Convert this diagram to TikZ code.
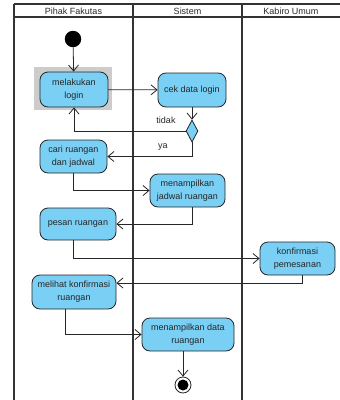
\documentclass[tikz,border=0pt]{standalone}
\usepackage{fontspec}
\setmainfont{Liberation Sans}
\usetikzlibrary{arrows.meta,shapes.geometric}
\definecolor{actfill}{HTML}{7ACFF5}
\definecolor{lanecol}{HTML}{333333}
\definecolor{selgray}{HTML}{CCCCCC}
\begin{document}
\begin{tikzpicture}[x=1pt,y=-1pt,
 act/.style={draw=black!85, fill=actfill, rounded corners=8pt, line width=0.8pt, align=center, font=\fontsize{9}{13}\selectfont, text=black!85, inner sep=0pt},
 flow/.style={draw=black!85, line width=0.8pt, -{Straight Barb[length=6pt,width=10pt]}},
 lane/.style={draw=lanecol, line width=1.6pt},
 lbl/.style={font=\fontsize{9}{10}\selectfont, inner sep=0pt, text=black!85},
 hdr/.style={font=\fontsize{9}{10}\selectfont, inner sep=0pt, text=black!85}]
\useasboundingbox (0,0) rectangle (340,400);
% swimlanes
\draw[lane] (14,4) -- (340,4);
\draw[lane] (14,17) -- (340,17);
\draw[lane] (14,4) -- (14,400);
\draw[lane] (133,4) -- (133,400);
\draw[lane] (242,4) -- (242,400);
\node[hdr] (h1) at (73.5,11) {Pihak Fakutas};
\node[hdr] (h2) at (187.5,11) {Sistem};
\node[hdr] (h3) at (291,11) {Kabiro Umum};
% nodes
\node[circle, fill=black, inner sep=0pt, minimum size=16.5pt] (init) at (73,39) {};
\node[fill=selgray, minimum width=78pt, minimum height=43pt, inner sep=0pt] (sel) at (73,88.5) {};
\node[act, minimum width=68pt, minimum height=35pt] (login) at (74,89.5) {melakukan\\login};
\node[act, minimum width=68pt, minimum height=34pt] (cek) at (192,90) {cek data login};
\node[diamond, draw=black!85, fill=actfill, line width=0.8pt, inner sep=0pt, minimum width=12pt, minimum height=22pt] (dec) at (192,131) {};
\node[act, minimum width=67pt, minimum height=33pt] (cari) at (73.5,156.5) {cari ruangan\\dan jadwal};
\node[act, minimum width=75pt, minimum height=33pt] (menj) at (187.5,190.5) {menampilkan\\jadwal ruangan};
\node[act, minimum width=76pt, minimum height=32pt] (pesan) at (78,224) {pesan ruangan};
\node[act, minimum width=75pt, minimum height=33pt] (konf) at (297.5,258.5) {konfirmasi\\pemesanan};
\node[act, minimum width=84pt, minimum height=34pt] (lihat) at (74,292) {melihat konfirmasi\\ruangan};
\node[act, minimum width=92pt, minimum height=33pt] (mdata) at (188,334.5) {menampilkan data\\ruangan};
\node[circle, draw=black!85, fill=white, line width=0.8pt, inner sep=0pt, minimum size=16pt] (fin) at (183,385) {};
\node[circle, fill=black, inner sep=0pt, minimum size=11pt] (finin) at (183,385) {};
\node[lbl] (ltidak) at (166,120) {tidak};
\node[lbl] (lya) at (163,147) {ya};
% flows
\draw[flow] (init) -- (login);
\draw[flow] (login) -- (cek);
\draw[flow] (cek) -- (dec);
\draw[flow] (dec.west) -| (login.south);
\draw[flow] (dec.south) |- (cari.east);
\draw[flow] (cari.south) |- (menj.west);
\draw[flow] ([xshift=4.5pt]menj.south) |- (pesan.east);
\draw[flow] ([xshift=-5pt]pesan.south) |- (konf.west);
\draw[flow] ([xshift=4.5pt]konf.south) |- ([yshift=9pt]lihat.east);
\draw[flow] ([xshift=-8.5pt]lihat.south) |- (mdata.west);
\draw[flow] ([xshift=-5pt]mdata.south) -- (fin.north);
\end{tikzpicture}
\end{document}
